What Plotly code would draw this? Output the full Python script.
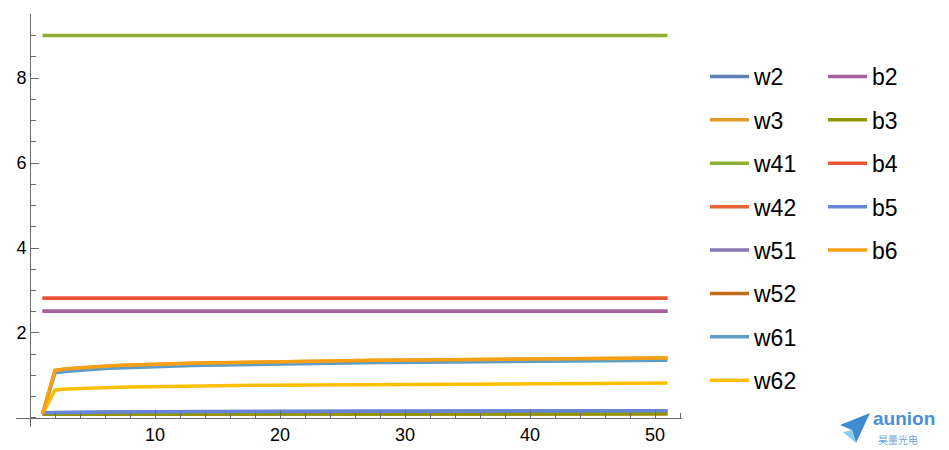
import plotly.graph_objects as go

# ---------------- data ----------------
steps = list(range(1, 52))

b6_vals = [0.09, 1.12, 1.156, 1.182, 1.202, 1.219, 1.233, 1.245, 1.255, 1.265, 1.273,
           1.281, 1.288, 1.295, 1.301, 1.307, 1.313, 1.318, 1.323, 1.327, 1.332, 1.336,
           1.340, 1.344, 1.347, 1.351, 1.354, 1.358, 1.361, 1.364, 1.367, 1.370, 1.372,
           1.375, 1.378, 1.380, 1.383, 1.385, 1.387, 1.390, 1.392, 1.394, 1.396, 1.398,
           1.400, 1.402, 1.404, 1.406, 1.408, 1.410, 1.411]
w3_vals = b6_vals
w61_vals = [0.09, 1.065, 1.101, 1.127, 1.147, 1.164, 1.178, 1.190, 1.200, 1.210, 1.218,
            1.226, 1.233, 1.240, 1.246, 1.252, 1.258, 1.263, 1.268, 1.272, 1.277, 1.281,
            1.285, 1.289, 1.292, 1.296, 1.299, 1.303, 1.306, 1.309, 1.312, 1.315, 1.317,
            1.320, 1.323, 1.325, 1.328, 1.330, 1.332, 1.335, 1.337, 1.339, 1.341, 1.343,
            1.345, 1.347, 1.349, 1.351, 1.353, 1.355, 1.356]
w62_vals = [0.09, 0.660, 0.680, 0.695, 0.706, 0.715, 0.723, 0.729, 0.735, 0.740, 0.745,
            0.750, 0.754, 0.757, 0.761, 0.764, 0.767, 0.770, 0.773, 0.775, 0.778, 0.780,
            0.782, 0.784, 0.786, 0.788, 0.790, 0.792, 0.794, 0.795, 0.797, 0.799, 0.800,
            0.802, 0.803, 0.805, 0.806, 0.807, 0.809, 0.810, 0.811, 0.812, 0.813, 0.815,
            0.816, 0.817, 0.818, 0.819, 0.820, 0.821, 0.822]
b5_vals = [0.125, 0.130, 0.135, 0.138, 0.141, 0.143, 0.145, 0.147, 0.148, 0.149, 0.150,
           0.151, 0.152, 0.153, 0.154, 0.155, 0.156, 0.156, 0.157, 0.158, 0.158, 0.159,
           0.159, 0.160, 0.160, 0.161, 0.161, 0.162, 0.162, 0.162, 0.163, 0.163, 0.164,
           0.164, 0.164, 0.165, 0.165, 0.165, 0.166, 0.166, 0.166, 0.167, 0.167, 0.167,
           0.167, 0.168, 0.168, 0.168, 0.168, 0.169, 0.169]
w2_vals = b5_vals
b3_vals = [0.088, 0.088, 0.089, 0.089, 0.089, 0.090, 0.090, 0.090, 0.090, 0.091, 0.091,
           0.091, 0.091, 0.092, 0.092, 0.092, 0.092, 0.092, 0.093, 0.093, 0.093, 0.093,
           0.093, 0.093, 0.094, 0.094, 0.094, 0.094, 0.094, 0.094, 0.094, 0.095, 0.095,
           0.095, 0.095, 0.095, 0.095, 0.095, 0.095, 0.096, 0.096, 0.096, 0.096, 0.096,
           0.096, 0.096, 0.096, 0.096, 0.097, 0.097, 0.097]
w52_vals = b3_vals
w41_vals = [9.0, 9.0, 9.0, 9.0, 9.0, 9.0, 9.0, 9.0, 9.0, 9.0, 9.0, 9.0, 9.0, 9.0, 9.0, 9.0,
            9.0, 9.0, 9.0, 9.0, 9.0, 9.0, 9.0, 9.0, 9.0, 9.0, 9.0, 9.0, 9.0, 9.0, 9.0, 9.0,
            9.0, 9.0, 9.0, 9.0, 9.0, 9.0, 9.0, 9.0, 9.0, 9.0, 9.0, 9.0, 9.0, 9.0, 9.0, 9.0,
            9.0, 9.0, 9.0]
b4_vals = [2.82, 2.82, 2.82, 2.82, 2.82, 2.82, 2.82, 2.82, 2.82, 2.82, 2.82, 2.82, 2.82,
           2.82, 2.82, 2.82, 2.82, 2.82, 2.82, 2.82, 2.82, 2.82, 2.82, 2.82, 2.82, 2.82,
           2.82, 2.82, 2.82, 2.82, 2.82, 2.82, 2.82, 2.82, 2.82, 2.82, 2.82, 2.82, 2.82,
           2.82, 2.82, 2.82, 2.82, 2.82, 2.82, 2.82, 2.82, 2.82, 2.82, 2.82, 2.82]
w42_vals = b4_vals
b2_vals = [2.51, 2.51, 2.51, 2.51, 2.51, 2.51, 2.51, 2.51, 2.51, 2.51, 2.51, 2.51, 2.51,
           2.51, 2.51, 2.51, 2.51, 2.51, 2.51, 2.51, 2.51, 2.51, 2.51, 2.51, 2.51, 2.51,
           2.51, 2.51, 2.51, 2.51, 2.51, 2.51, 2.51, 2.51, 2.51, 2.51, 2.51, 2.51, 2.51,
           2.51, 2.51, 2.51, 2.51, 2.51, 2.51, 2.51, 2.51, 2.51, 2.51, 2.51, 2.51]
w51_vals = b2_vals

w_names = ["w2", "w3", "w41", "w42", "w51", "w52", "w61", "w62"]
b_names = ["b2", "b3", "b4", "b5", "b6"]
x_ticks = [10, 20, 30, 40, 50]
y_ticks = [2, 4, 6, 8]

series = {
    "w2": w2_vals, "w3": w3_vals, "w41": w41_vals, "w42": w42_vals,
    "w51": w51_vals, "w52": w52_vals, "w61": w61_vals, "w62": w62_vals,
    "b2": b2_vals, "b3": b3_vals, "b4": b4_vals, "b5": b5_vals, "b6": b6_vals,
}
colors = {
    "w2": "#5E81B5", "w3": "#E19C24", "w41": "#8FB032", "w42": "#EB6235",
    "w51": "#8778B3", "w52": "#C56E1A", "w61": "#5D9EC7", "w62": "#FFBF00",
    "b2": "#A5609D", "b3": "#929600", "b4": "#E95536", "b5": "#6685D9", "b6": "#F89F13",
}

# ---------------- geometry ----------------
# the page has an 8px body margin, so the figure is shifted by OFF px
OFF = 8
W, H = 949 - OFF, 450 - OFF
# plot area in page pixels
L, R, T, B = 16, 682, 14, 427
XR = [-1.12, 52.16]
YR = [-0.212, 9.506]
ITEMW = 39


def px2paper(px, py):
    """page pixel -> paper coords"""
    return (px - L) / (R - L), (B - py) / (B - T)


fig = go.Figure()
for name in w_names + b_names:
    fig.add_trace(go.Scatter(
        x=steps, y=series[name], name=name, mode="lines",
        line=dict(color=colors[name], width=3.5),
        legend="legend2" if name.startswith("b") else "legend",
        legendgroup=name,
    ))

font_family = "Liberation Sans, Arial, sans-serif"
axis_color = "#6b6b6b"

fig.update_layout(
    width=W, height=H,
    margin=dict(l=L - OFF, r=(949 - R), t=T - OFF, b=(450 - B), autoexpand=False),
    paper_bgcolor="white", plot_bgcolor="white",
    font=dict(family=font_family, color="black"),
    xaxis=dict(
        range=XR, anchor="free", position=(0 - YR[0]) / (YR[1] - YR[0]),
        showgrid=False, zeroline=False, showline=True, linecolor=axis_color, linewidth=1,
        tickvals=x_ticks, ticks="inside", ticklen=8, tickcolor=axis_color, tickwidth=1,
        tickfont=dict(size=18, color="black"),
        minor=dict(dtick=2, tick0=0, ticks="inside", ticklen=5, tickcolor=axis_color,
                   tickwidth=1, showgrid=False),
    ),
    yaxis=dict(
        range=YR, anchor="free", position=(0 - XR[0]) / (XR[1] - XR[0]),
        showgrid=False, zeroline=False, showline=True, linecolor=axis_color, linewidth=1,
        tickvals=y_ticks, ticks="inside", ticklen=8, tickcolor=axis_color, tickwidth=1,
        tickfont=dict(size=18, color="black"),
        minor=dict(dtick=0.5, tick0=0, ticks="inside", ticklen=5, tickcolor=axis_color,
                   tickwidth=1, showgrid=False),
    ),
    legend=dict(
        x=px2paper(754 - ITEMW - 10, 0)[0], y=px2paper(0, 55)[1],
        xanchor="left", yanchor="top",
        font=dict(size=23, family=font_family, color="black"),
        tracegroupgap=10.5, itemwidth=ITEMW, bgcolor="rgba(0,0,0,0)", borderwidth=0,
    ),
    legend2=dict(
        x=px2paper(872 - ITEMW - 10, 0)[0], y=px2paper(0, 55)[1],
        xanchor="left", yanchor="top",
        font=dict(size=23, family=font_family, color="black"),
        tracegroupgap=10.5, itemwidth=ITEMW, bgcolor="rgba(0,0,0,0)", borderwidth=0,
    ),
    showlegend=True,
)

# ---------------- watermark logo ----------------
p = [px2paper(*pt) for pt in [(840, 425), (870, 413), (856, 443), (852, 430)]]
fig.add_shape(type="path", xref="paper", yref="paper",
              path="M {} {} L {} {} L {} {} L {} {} Z".format(*[c for pt in p for c in pt]),
              fillcolor="#3F8BD0", line=dict(width=0))
q = [px2paper(*pt) for pt in [(843, 432), (852, 430), (856, 443)]]
fig.add_shape(type="path", xref="paper", yref="paper",
              path="M {} {} L {} {} L {} {} Z".format(*[c for pt in q for c in pt]),
              fillcolor="#8CCBF0", line=dict(width=0))
ax, ay = px2paper(872, 418)
fig.add_annotation(xref="paper", yref="paper", x=ax, y=ay, text="<b>aunion</b>",
                   xanchor="left", yanchor="middle", showarrow=False, borderpad=0,
                   font=dict(size=19, family=font_family, color="#4A8FD4"))
cx, cy = px2paper(877, 439)
fig.add_annotation(xref="paper", yref="paper", x=cx, y=cy, text="昊量光电",
                   xanchor="left", yanchor="middle", showarrow=False, borderpad=0,
                   font=dict(size=10, family="Noto Sans CJK SC", color="#6AA6DE"))

fig.write_html("out.html")
